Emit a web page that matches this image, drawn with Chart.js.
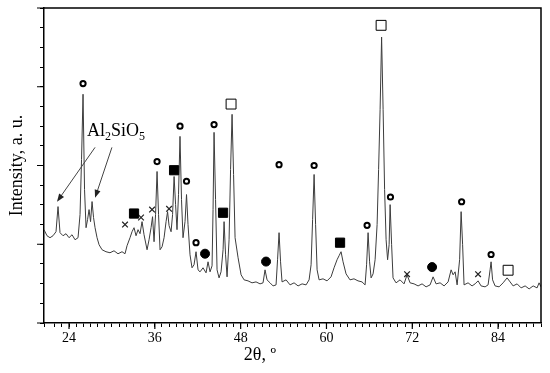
<!DOCTYPE html>
<html>
<head>
<meta charset="utf-8">
<script src="https://cdn.jsdelivr.net/npm/chart.js@4.4.0/dist/chart.umd.min.js"></script>
<style>
  html, body { margin: 0; padding: 0; background: #fff; }
  #wrap { width: 550px; height: 373px; }
</style>
</head>
<body>
<div id="wrap"><canvas id="xrd"></canvas></div>
<script>
// XRD pattern
var twoTheta = [20.5,20.92,21.34,21.76,22.18,22.46,22.74,23.16,23.58,24.0,24.42,24.84,25.26,25.54,25.75,25.96,26.17,26.38,26.59,26.8,
  27.01,27.22,27.43,27.64,27.92,28.2,28.62,29.17,29.73,30.29,30.85,31.41,31.83,32.11,32.53,32.81,33.09,33.37,33.65,33.93,
  34.21,34.49,34.91,35.19,35.47,35.68,35.89,36.1,36.31,36.52,36.73,37.01,37.29,37.57,37.78,37.99,38.27,38.48,38.69,38.9,
  39.1,39.31,39.52,39.73,39.94,40.22,40.43,40.64,40.92,41.2,41.48,41.76,42.04,42.32,42.74,43.16,43.44,43.72,44.0,44.14,
  44.28,44.49,44.7,44.98,45.26,45.54,45.68,45.89,46.1,46.38,46.59,46.8,47.01,47.22,47.64,48.06,48.48,49.03,49.59,50.15,
  50.71,51.13,51.41,51.69,52.11,52.53,52.95,53.16,53.37,53.58,53.79,54.35,54.91,55.47,56.03,56.59,57.15,57.57,57.85,58.06,
  58.27,58.48,58.69,58.97,59.52,60.08,60.64,61.06,61.48,61.76,62.04,62.32,62.74,63.29,63.85,64.41,64.97,65.4,65.61,65.82,
  66.03,66.24,66.52,66.8,67.08,67.29,67.5,67.71,67.92,68.13,68.34,68.55,68.76,68.9,69.11,69.31,69.73,70.29,70.85,71.27,
  71.69,72.25,72.81,73.37,73.93,74.49,74.91,75.33,75.89,76.45,77.01,77.43,77.71,77.99,78.27,78.62,78.83,79.04,79.24,79.8,
  80.36,80.78,81.2,81.62,82.18,82.6,82.88,83.02,83.23,83.58,84.14,84.7,85.26,85.68,86.1,86.66,87.22,87.78,88.34,88.9,
  89.45,89.73,90.0];
var intensity = [118.5,110.8,108.3,110.8,115.9,147.8,114.7,110.8,113.4,108.3,112.1,105.7,108.3,137.6,207.7,290.5,169.4,121.0,131.2,144.0,
  128.7,154.2,133.8,121.0,108.3,99.4,93.0,90.5,89.2,91.7,87.9,90.5,87.9,98.1,108.3,115.9,121.0,110.8,118.5,113.4,
  128.7,112.1,93.0,105.7,121.0,135.0,103.2,137.6,192.4,137.6,93.0,96.8,108.3,128.7,141.4,123.6,115.9,137.6,186.0,150.3,
  118.5,163.1,237.0,156.7,108.3,128.7,163.1,124.9,86.6,70.1,73.9,90.5,67.5,65.0,70.1,63.7,77.7,65.0,72.6,144.0,
  242.1,156.7,67.5,57.3,65.0,93.0,128.7,86.6,58.6,105.7,194.9,265.0,188.6,108.3,82.8,61.2,54.8,53.5,51.0,52.2,
  49.7,51.0,67.5,54.8,51.0,47.1,48.4,80.3,114.7,77.7,52.2,54.8,48.4,51.0,47.1,49.7,48.4,54.8,73.9,131.2,
  188.6,124.9,67.5,54.8,56.1,53.5,58.6,70.1,80.3,85.4,90.5,77.7,62.4,54.8,56.1,53.5,52.2,48.4,73.9,114.7,
  77.7,57.3,62.4,80.3,124.9,194.9,271.4,363.1,271.4,169.4,105.7,80.3,99.4,150.3,99.4,57.3,51.0,54.8,49.7,61.2,
  51.0,49.7,47.1,49.7,45.9,48.4,58.6,49.7,51.0,47.1,52.2,67.5,61.2,65.0,48.4,80.3,141.4,99.4,48.4,51.0,
  47.1,49.7,53.5,47.1,45.9,48.4,67.5,77.7,54.8,47.1,45.9,51.0,57.3,52.2,47.1,49.7,44.6,47.1,43.3,47.1,
  44.6,51.0,45.9];

// phase marks [2theta, height]
var openCircles = [[25.96,304],[36.31,205],[39.52,250],[40.43,180],[41.76,102],[44.28,252],[53.37,201],
  [58.27,200],[65.68,124],[68.95,160],[78.9,154],[83.02,87]];
var filledSquares = [[33.09,139],[38.69,194],[45.54,140],[61.9,102]];
var openSquares = [[46.66,278],[67.64,378],[85.4,67]];
var filledCircles = [[43.02,88],[51.55,78],[74.77,71]];
var crosses = [[31.83,125],[34.07,134],[35.61,144],[37.99,145],[71.27,62],[81.2,62]];

var xTicks = [24, 36, 48, 60, 72, 84];
var serif = 'Liberation Serif, Times New Roman, serif';

function toPts(arr) {
  return arr.map(function(p) { return {x: p[0], y: p[1]}; });
}

var extras = {
  id: 'extras',
  afterDraw: function(chart) {
    var ctx = chart.ctx, a = chart.chartArea;
    var xs = chart.scales.x, ys = chart.scales.y;
    ctx.save();
    // frame top/right
    ctx.strokeStyle = '#000';
    ctx.lineWidth = 1.5;
    ctx.beginPath();
    ctx.moveTo(a.left, a.top);
    ctx.lineTo(a.right, a.top);
    ctx.lineTo(a.right, a.bottom);
    ctx.stroke();
    // longer major ticks
    ctx.lineWidth = 1.2;
    ctx.beginPath();
    for (var v = 0; v <= 400; v += 100) {
      var py = ys.getPixelForValue(v);
      ctx.moveTo(a.left - 7, py);
      ctx.lineTo(a.left, py);
    }
    xTicks.forEach(function(t) {
      var px = xs.getPixelForValue(t);
      ctx.moveTo(px, a.bottom);
      ctx.lineTo(px, a.bottom + 6);
    });
    ctx.stroke();

    // Al2SiO5 label
    ctx.fillStyle = '#000';
    ctx.textBaseline = 'alphabetic';
    var tx = xs.getPixelForValue(26.5), ty = ys.getPixelForValue(237);
    var parts = [['Al', 18, 0], ['2', 12, 4], ['SiO', 18, 0], ['5', 12, 4]];
    parts.forEach(function(p) {
      ctx.font = p[1] + 'px ' + serif;
      ctx.fillText(p[0], tx, ty + p[2]);
      tx += ctx.measureText(p[0]).width;
    });

    // arrows
    function arrow(x0, y0, x1, y1) {
      var sx = xs.getPixelForValue(x0), sy = ys.getPixelForValue(y0);
      var ex = xs.getPixelForValue(x1), ey = ys.getPixelForValue(y1);
      var ang = Math.atan2(ey - sy, ex - sx);
      ctx.strokeStyle = '#444';
      ctx.lineWidth = 1;
      ctx.beginPath();
      ctx.moveTo(sx, sy);
      ctx.lineTo(ex - 6 * Math.cos(ang), ey - 6 * Math.sin(ang));
      ctx.stroke();
      ctx.fillStyle = '#222';
      ctx.beginPath();
      ctx.moveTo(ex, ey);
      ctx.lineTo(ex - 8 * Math.cos(ang) + 3 * Math.sin(ang), ey - 8 * Math.sin(ang) - 3 * Math.cos(ang));
      ctx.lineTo(ex - 8 * Math.cos(ang) - 3 * Math.sin(ang), ey - 8 * Math.sin(ang) + 3 * Math.cos(ang));
      ctx.closePath();
      ctx.fill();
    }
    arrow(27.64, 223, 22.32, 154);
    arrow(30.0, 223, 27.64, 159);

    // x title
    ctx.fillStyle = '#000';
    ctx.font = '18px ' + serif;
    ctx.textAlign = 'center';
    ctx.textBaseline = 'middle';
    ctx.fillText('2\u03b8, \u00ba', xs.getPixelForValue(50.7), 355);
    ctx.restore();
  }
};

var markStyle = {showLine: false, pointBorderColor: '#000', pointHoverRadius: 0};

var xrdChart = new Chart(document.getElementById('xrd').getContext('2d'), {
  type: 'line',
  data: {
    datasets: [
      Object.assign({data: toPts(openCircles), pointStyle: 'circle', pointRadius: 2.6, pointBorderWidth: 2,
        pointBackgroundColor: '#fff'}, markStyle),
      Object.assign({data: toPts(filledSquares), pointStyle: 'rect', pointRadius: 6.5, pointBorderWidth: 1,
        pointBackgroundColor: '#000'}, markStyle),
      Object.assign({data: toPts(openSquares), pointStyle: 'rect', pointRadius: 7, pointBorderWidth: 1,
        pointBackgroundColor: '#fff'}, markStyle),
      Object.assign({data: toPts(filledCircles), pointStyle: 'circle', pointRadius: 4.5, pointBorderWidth: 1,
        pointBackgroundColor: '#000'}, markStyle),
      Object.assign({data: toPts(crosses), pointStyle: 'crossRot', pointRadius: 4, pointBorderWidth: 1.2,
        pointBorderColor: '#222'}, {showLine: false}),
      {
        data: twoTheta.map(function(t, i) { return {x: t, y: intensity[i]}; }),
        borderColor: '#3c3c3c',
        borderWidth: 1,
        pointRadius: 0,
        tension: 0
      }
    ]
  },
  options: {
    responsive: true,
    maintainAspectRatio: false,
    animation: false,
    layout: {padding: {top: 8, right: 9, left: 0, bottom: 0}},
    plugins: {legend: {display: false}, tooltip: {enabled: false}},
    scales: {
      x: {
        type: 'linear',
        min: 20.5,
        max: 90,
        border: {color: '#000', width: 1.5},
        grid: {drawOnChartArea: false, color: '#000', tickLength: 4, tickWidth: 1},
        ticks: {
          stepSize: 1,
          autoSkip: false,
          maxRotation: 0,
          color: '#000',
          padding: 3,
          font: {family: serif, size: 14},
          callback: function(v) { return xTicks.indexOf(v) >= 0 ? String(v) : ''; }
        },
        afterFit: function(s) { s.height = 50; }
      },
      y: {
        min: 0,
        max: 400,
        border: {color: '#000', width: 1.5},
        grid: {drawOnChartArea: false, color: '#000', tickLength: 4, tickWidth: 1},
        ticks: {stepSize: 25, display: false},
        title: {
          display: true,
          text: 'Intensity, a. u.',
          color: '#000',
          font: {family: serif, size: 18},
          padding: {top: 6, bottom: 0}
        },
        afterFit: function(s) { s.width = 44; }
      }
    }
  },
  plugins: [extras]
});
</script>
</body>
</html>
